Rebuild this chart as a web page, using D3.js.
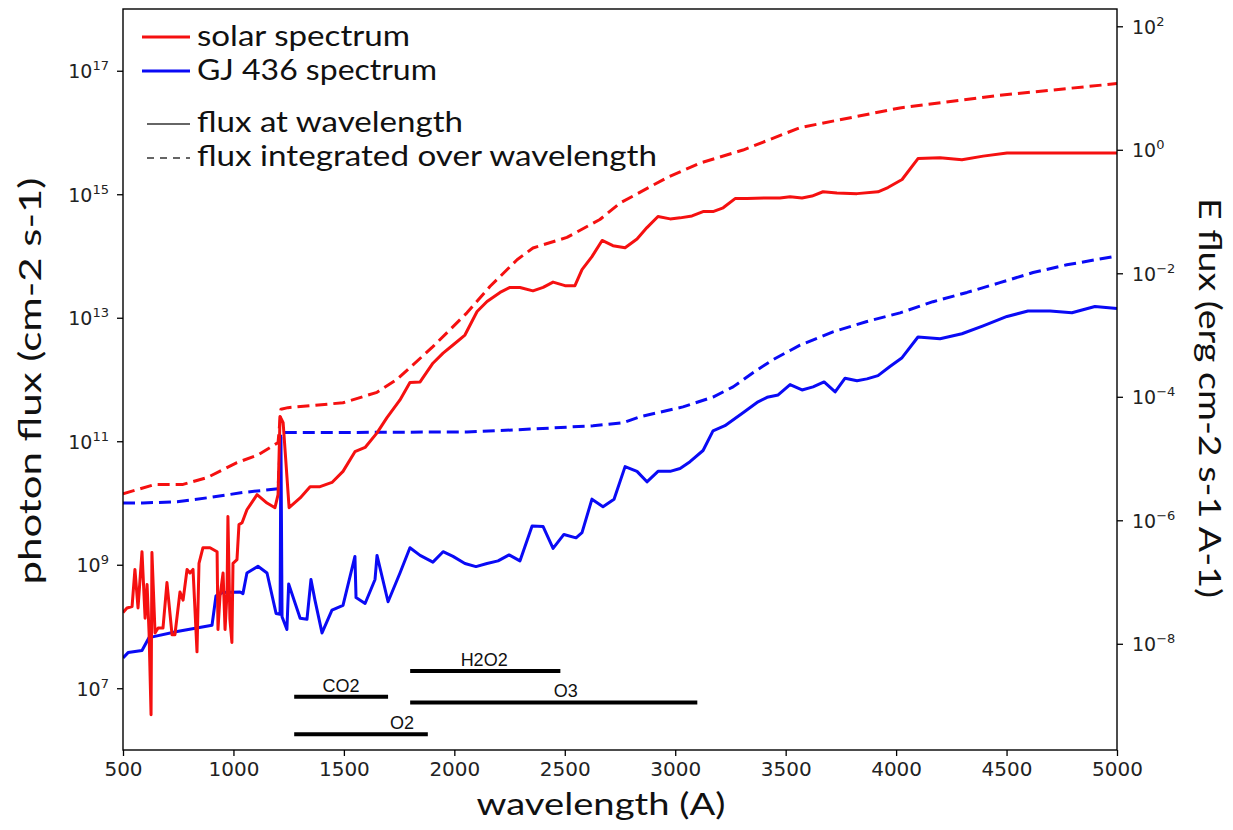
<!DOCTYPE html>
<html><head><meta charset="utf-8">
<script src="https://cdn.jsdelivr.net/npm/d3@7"></script>
<style>body{margin:0;background:#fff}svg{display:block}</style>
</head><body><svg id="chart" width="1233" height="830"></svg>
<script>
// ---------- data ----------
// solar spectrum, flux at wavelength (E flux, erg cm-2 s-1 A-1, right axis)
const solarWave = [500,518,541,554,568,586,600,609,618,627,
  631,645,659,681,699,722,735,758,772,790,
  803,817,835,844,862,894,926,930,939,953,
  962,971,975,984,993,998,1016,1025,1039,1061,
  1107,1152,1188,1202,1211,1225,1252,1302,1347,1392,
  1446,1496,1550,1596,1650,1695,1754,1799,1845,1903,
  1949,1994,2048,2103,2148,2207,2252,2297,2356,2402,
  2447,2501,2546,2578,2623,2669,2718,2773,2827,2872,
  2922,2977,3022,3076,3126,3171,3217,3271,3325,3416,
  3474,3520,3574,3619,3669,3732,3823,3918,3963,4027,
  4099,4199,4298,4394,4502,4620,4774,4891,5000];
const solarFlux = [3.2e-8,3.8e-8,4.0e-8,1.6e-7,3.8e-8,3.1e-7,2.6e-8,9.1e-8,1.5e-8,7.1e-10,
  3.0e-7,1.5e-8,1.8e-8,1.8e-8,9.8e-8,1.4e-8,1.4e-8,6.9e-8,5.1e-8,1.6e-7,
  1.4e-7,1.6e-7,7.4e-9,2.0e-7,3.6e-7,3.6e-7,3.1e-7,1.7e-8,5.8e-8,1.4e-7,
  1.7e-8,6.8e-8,1.15e-6,2.5e-8,1.05e-8,2.0e-7,2.3e-7,8.5e-7,9.1e-7,1.48e-6,
  2.6e-6,1.9e-6,1.6e-6,2.6e-6,4.8e-5,3.8e-5,1.6e-6,2.3e-6,3.5e-6,3.5e-6,
  4.1e-6,6.2e-6,1.29e-5,1.51e-5,2.6e-5,4.6e-5,8.9e-5,1.7e-4,1.74e-4,3.5e-4,
  5.1e-4,6.9e-4,1.0e-3,2.4e-3,3.5e-3,4.9e-3,5.9e-3,5.9e-3,5.2e-3,5.9e-3,
  7.2e-3,6.3e-3,6.3e-3,1.15e-2,1.86e-2,3.4e-2,2.8e-2,2.6e-2,3.6e-2,5.5e-2,
  8.3e-2,7.6e-2,7.9e-2,8.5e-2,0.10,0.10,0.115,0.162,0.162,0.166,
  0.166,0.174,0.166,0.178,0.209,0.20,0.195,0.209,0.245,0.33,
  0.72,0.74,0.69,0.79,0.89,0.89,0.89,0.89,0.89];

// solar spectrum, integrated photon flux (cm-2 s-1, left axis)
const solarIntWave = [500,645,772,880,1016,1111,1202,1215,1247,1496,1650,1740,1903,2057,2161,2284,2356,2510,2659,2750,2963,3112,3307,3565,4017,4470,5000];
const solarIntFlux = [1.41e10,2.0e10,2.0e10,2.57e10,4.5e10,6.0e10,9.5e10,3.3e11,3.5e11,4.2e11,6.2e11,1.0e12,3.4e12,1.2e13,3.2e13,8.7e13,1.35e14,2.0e14,3.9e14,7.2e14,1.86e15,3.2e15,5.2e15,1.2e16,2.5e16,4.0e16,6.2e16];

// GJ 436 spectrum, flux at wavelength (right axis)
const gjWave = [500,523,586,618,745,903,921,953,1030,1043,1061,1111,1152,1193,1211,1215,1220,1242,1250,1302,
  1333,1351,1369,1401,1446,1496,1550,1555,1596,1641,1650,1700,1754,1799,1845,1903,1949,1994,2048,2098,
  2148,2198,2248,2297,2352,2402,2447,2496,2551,2578,2623,2673,2723,2773,2827,2872,2922,2977,3022,3067,
  3126,3171,3225,3307,3375,3416,3466,3520,3574,3624,3674,3724,3769,3823,3868,3918,3972,4027,4099,4199,
  4298,4394,4502,4597,4697,4796,4900,5000];
const gjFlux = [5.9e-9,7.2e-9,7.8e-9,1.26e-8,1.58e-8,2.0e-8,6.0e-8,6.8e-8,6.9e-8,6.5e-8,1.4e-7,1.8e-7,1.4e-7,3.1e-8,3.0e-8,2.2e-5,2.75e-8,1.7e-8,9.3e-8,2.6e-8,
  2.5e-8,1.1e-7,5.1e-8,1.5e-8,3.5e-8,4.2e-8,2.6e-7,5.6e-8,4.5e-8,1.1e-7,2.7e-7,4.8e-8,1.4e-7,3.6e-7,2.7e-7,2.1e-7,3.1e-7,2.6e-7,2.0e-7,1.78e-7,
  2.0e-7,2.2e-7,2.75e-7,2.2e-7,8.1e-7,7.9e-7,3.5e-7,5.9e-7,5.2e-7,6.3e-7,2.2e-6,1.66e-6,2.2e-6,7.4e-6,6.2e-6,4.2e-6,6.2e-6,6.2e-6,6.9e-6,8.9e-6,
  1.35e-5,2.8e-5,3.4e-5,5.5e-5,8.3e-5,9.8e-5,1.07e-4,1.58e-4,1.29e-4,1.45e-4,1.74e-4,1.2e-4,2.0e-4,1.82e-4,1.95e-4,2.2e-4,3.1e-4,4.3e-4,9.3e-4,8.7e-4,
  1.05e-3,1.41e-3,2.0e-3,2.45e-3,2.45e-3,2.3e-3,2.9e-3,2.7e-3];

// GJ 436 spectrum, integrated photon flux (left axis)
const gjIntWave = [500,590,745,894,1043,1202,1215,1347,1890,2057,2356,2628,2764,2841,3035,3171,3262,3352,3443,3565,3714,3868,4018,4167,4321,4470,4620,4773,5000];
const gjIntFlux = [1.0e10,1.0e10,1.05e10,1.23e10,1.48e10,1.7e10,1.38e11,1.38e11,1.41e11,1.41e11,1.58e11,1.78e11,2.0e11,2.5e11,3.6e11,5.2e11,7.6e11,1.29e12,2.1e12,3.6e12,5.9e12,8.7e12,1.2e13,1.82e13,2.57e13,3.7e13,5.4e13,7.2e13,1.0e14];

// absorption band annotations (wavelength ranges, left-axis level)
const molNames = ["CO2","O2","H2O2","O3"];
const molStart = [1275,1275,1800,1800];
const molEnd = [1700,1880,2480,3100];
const molLevel = [7.3e6,1.8e6,1.9e7,5.9e6];
const molLabelAt = [1487,1763,2135,2505];

// axes
const xTicks = [500,1000,1500,2000,2500,3000,3500,4000,4500,5000];
const leftTickExps = [7,9,11,13,15,17];
const rightTickExps = [-8,-6,-4,-2,0,2];
const legendLabels = ["solar spectrum","GJ 436 spectrum","flux at wavelength","flux integrated over wavelength"];

// ---------- drawing ----------
const svg = d3.select("#chart");
const L = 123, R = 1117, T = 9, B = 750;
const x = d3.scaleLinear().domain([500,5000]).range([L,R]);
const yL = d3.scaleLog().domain([1e6,1e18]).range([B,T]);
const yR = d3.scaleLog().domain([Math.pow(10,-9.72),Math.pow(10,2.28)]).range([B,T]);

svg.append("defs").append("clipPath").attr("id","clip")
  .append("rect").attr("x",L).attr("y",T).attr("width",R-L).attr("height",B-T);

const g = svg.append("g").attr("clip-path","url(#clip)");
function drawLine(wave, flux, yScale, color, dashed){
  const pts = d3.zip(wave, flux);
  const line = d3.line().x(d=>x(d[0])).y(d=>yScale(d[1]));
  g.append("path").datum(pts).attr("d",line)
    .attr("fill","none").attr("stroke",color).attr("stroke-width",3)
    .attr("stroke-linejoin","round")
    .attr("stroke-dasharray",dashed?"12,6":null);
}
drawLine(gjIntWave, gjIntFlux, yL, "#0a0af5", true);
drawLine(solarIntWave, solarIntFlux, yL, "#f51010", true);
drawLine(gjWave, gjFlux, yR, "#0a0af5", false);
drawLine(solarWave, solarFlux, yR, "#f51010", false);

// molecule bars
const mol = d3.range(molNames.length).map(i=>({n:molNames[i],a:molStart[i],b:molEnd[i],v:molLevel[i],t:molLabelAt[i]}));
svg.append("g").selectAll("line").data(mol).join("line")
  .attr("x1",d=>x(d.a)).attr("x2",d=>x(d.b))
  .attr("y1",d=>yL(d.v)).attr("y2",d=>yL(d.v))
  .attr("stroke","#000").attr("stroke-width",4);
svg.append("g").selectAll("text").data(mol).join("text")
  .attr("x",d=>x(d.t)).attr("y",d=>yL(d.v)-5)
  .attr("text-anchor","middle")
  .attr("font-family","'Liberation Sans', Arial, sans-serif")
  .attr("font-size",18).attr("fill","#111")
  .text(d=>d.n);

// frame
svg.append("rect").attr("x",L).attr("y",T).attr("width",R-L).attr("height",B-T)
  .attr("fill","none").attr("stroke","#000").attr("stroke-width",1.4);

// x axis
const xAxis = d3.axisBottom(x).tickValues(xTicks).tickSize(6).tickPadding(6).tickFormat(d3.format("d"));
const gx = svg.append("g").attr("transform",`translate(0,${B})`).call(xAxis);
gx.select(".domain").remove();
gx.selectAll(".tick line").attr("stroke","#000").attr("stroke-width",1.3);
gx.selectAll(".tick text").attr("font-family","'DejaVu Sans', sans-serif").attr("font-size",20).attr("fill","#222").attr("dy","0.71em");

// left axis
function expLabel(sel, e){
  sel.text(null);
  sel.append("tspan").text("10");
  sel.append("tspan").attr("dy",-8).attr("font-size",13).text(String(e).replace("-","\u2212"));
}
const yLeftAxis = d3.axisLeft(yL).tickValues(leftTickExps.map(e=>Math.pow(10,e))).tickSize(6).tickFormat("");
const gyl = svg.append("g").attr("transform",`translate(${L},0)`).call(yLeftAxis);
gyl.select(".domain").remove();
gyl.selectAll(".tick line").attr("stroke","#000").attr("stroke-width",1.3);
gyl.selectAll(".tick").each(function(d,i){
  const t = d3.select(this).append("text").attr("x",-14).attr("y",7)
    .attr("text-anchor","end").attr("font-family","'DejaVu Sans', sans-serif")
    .attr("font-size",19).attr("fill","#222");
  expLabel(t, leftTickExps[i]);
});

// right axis
const yRightAxis = d3.axisRight(yR).tickValues(rightTickExps.map(e=>Math.pow(10,e))).tickSize(6).tickFormat("");
const gyr = svg.append("g").attr("transform",`translate(${R},0)`).call(yRightAxis);
gyr.select(".domain").remove();
gyr.selectAll(".tick line").attr("stroke","#000").attr("stroke-width",1.3);
gyr.selectAll(".tick").each(function(d,i){
  const t = d3.select(this).append("text").attr("x",15).attr("y",7)
    .attr("text-anchor","start").attr("font-family","'DejaVu Sans', sans-serif")
    .attr("font-size",19).attr("fill","#222");
  expLabel(t, rightTickExps[i]);
});

// axis titles
const titleFont = "Lato, 'Open Sans', sans-serif";
svg.append("text").attr("x",601).attr("y",815).attr("text-anchor","middle")
  .attr("font-family",titleFont).attr("font-size",31).attr("fill","#111")
  .attr("textLength",249).attr("lengthAdjust","spacingAndGlyphs")
  .text("wavelength (A)");
svg.append("text").attr("transform","translate(41,381) rotate(-90)").attr("text-anchor","middle")
  .attr("font-family",titleFont).attr("font-size",31).attr("fill","#111")
  .attr("textLength",407).attr("lengthAdjust","spacingAndGlyphs")
  .text("photon flux (cm-2 s-1)");
svg.append("text").attr("transform","translate(1199,398) rotate(90)").attr("text-anchor","middle")
  .attr("font-family",titleFont).attr("font-size",31).attr("fill","#111")
  .attr("textLength",400).attr("lengthAdjust","spacingAndGlyphs")
  .text("E flux (erg cm-2 s-1 A-1)");

// legend
const legend = [
  {label:legendLabels[0], color:"#f51010", w:3, dash:null, x1:142, x2:190, y:37, tw:213, base:46},
  {label:legendLabels[1], color:"#0a0af5", w:3, dash:null, x1:142, x2:190, y:71, tw:240, base:80},
  {label:legendLabels[2], color:"#333", w:1.5, dash:null, x1:147, x2:190, y:124, tw:266, base:132},
  {label:legendLabels[3], color:"#333", w:1.5, dash:"7,6", x1:147, x2:190, y:158, tw:460, base:166}
];
const lg = svg.append("g");
legend.forEach(d=>{
  lg.append("line").attr("x1",d.x1).attr("x2",d.x2).attr("y1",d.y).attr("y2",d.y)
    .attr("stroke",d.color).attr("stroke-width",d.w).attr("stroke-dasharray",d.dash);
  lg.append("text").attr("x",197).attr("y",d.base)
    .attr("font-family",titleFont).attr("font-size",28).attr("fill","#111")
    .attr("textLength",d.tw).attr("lengthAdjust","spacingAndGlyphs")
    .text(d.label);
});
</script>
</body></html>
